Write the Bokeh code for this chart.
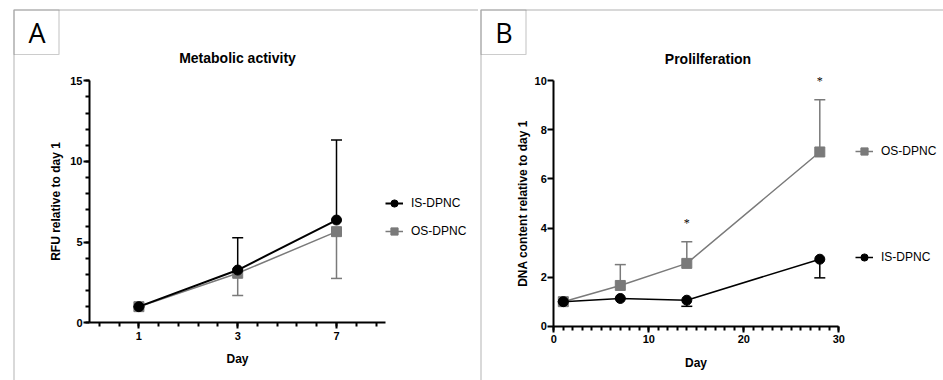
from bokeh.plotting import figure
from bokeh.models import (FixedTicker, Whisker, TeeHead, ColumnDataSource, Legend,
                          LegendItem, Label, LabelSet, BoxAnnotation, Range1d, LinearAxis)
from bokeh.layouts import row
from bokeh.embed import file_html
from bokeh.resources import INLINE

# ---------------- data: panel A (metabolic activity) ----------------
days_a = ["1", "3", "7"]
is_a_mean = [1.0, 3.27, 6.37]
is_a_sd = [0.0, 2.0, 4.96]
os_a_mean = [1.0, 3.07, 5.65]
os_a_sd = [0.0, 1.38, 2.9]
y_ticks_a = [0, 5, 10, 15]

# ---------------- data: panel B (proliferation) ----------------
days_b = [1, 7, 14, 28]
os_b_mean = [1.0, 1.66, 2.56, 7.1]
os_b_sd = [0.0, 0.85, 0.88, 2.13]
is_b_mean = [1.0, 1.13, 1.06, 2.73]
is_b_sd = [0.0, 0.0, 0.25, 0.76]
sig_days_b = [14, 28]
sig_y_b = [4.2, 10.0]
x_ticks_b = [0, 10, 20, 30]
y_ticks_b = [0, 2, 4, 6, 8, 10]

BLACK = "#000000"
GREY = "#7a7a7a"
FRAME = "#555555"
FONT = "Liberation Sans"
H = 380
WA, WB = 478, 465


def make_range(v0, p0, v1, p1, lo, hi):
    # data range whose values v0/v1 fall at pixels p0/p1 of a frame spanning lo..hi
    ppu = (p1 - p0) / (v1 - v0)
    a = v0 + (lo - p0) / ppu
    b = v0 + (hi - p0) / ppu
    return Range1d(min(a, b), max(a, b))


def style_axis(ax, label):
    ax.axis_label = label
    ax.axis_line_width = 2
    ax.axis_line_color = BLACK
    ax.major_tick_line_width = 2
    ax.minor_tick_line_width = 2
    ax.major_tick_line_color = BLACK
    ax.minor_tick_line_color = BLACK
    ax.major_tick_in = 0
    ax.minor_tick_in = 0
    ax.major_tick_out = 6
    ax.minor_tick_out = 4
    ax.major_label_text_font = FONT
    ax.major_label_text_font_style = "bold"
    ax.major_label_text_font_size = "11px"
    ax.major_label_text_color = BLACK
    ax.axis_label_text_font = FONT
    ax.axis_label_text_font_style = "bold"
    ax.axis_label_text_font_size = "12px"
    ax.axis_label_text_color = BLACK


def base_fig(width, xr, yr):
    p = figure(width=width, height=H, output_backend="svg", toolbar_location=None,
               x_range=xr, y_range=yr, x_axis_location=None, y_axis_location=None,
               min_border=0, min_border_left=0, min_border_right=0,
               min_border_top=0, min_border_bottom=0)
    p.grid.visible = False
    p.outline_line_color = None
    p.border_fill_color = "white"
    p.background_fill_color = "white"
    return p


def panel_frame(p, fw, left, letter, title, title_x, title_y):
    # everything here in screen px: x from frame left, y up from frame bottom
    p.add_layout(BoxAnnotation(left=left, right=fw + 50, top=H - 9.5, bottom=-50,
                               left_units="screen", right_units="screen",
                               top_units="screen", bottom_units="screen",
                               fill_alpha=0, line_color=FRAME, line_width=1.5))
    p.add_layout(BoxAnnotation(left=left, right=left + 45, top=H - 9.5, bottom=H - 54,
                               left_units="screen", right_units="screen",
                               top_units="screen", bottom_units="screen",
                               fill_alpha=0, line_color=FRAME, line_width=1.2))
    p.add_layout(Label(x=left + 23, y=H - 32, x_units="screen", y_units="screen",
                       text=letter, text_font="Open Sans", text_font_size="27px",
                       text_align="center", text_baseline="middle", text_color=BLACK))
    p.add_layout(Label(x=title_x, y=H - title_y, x_units="screen", y_units="screen",
                       text=title, text_font=FONT, text_font_size="14px",
                       text_font_style="bold", text_align="center",
                       text_baseline="middle", text_color=BLACK))


def make_legend(items, loc, spacing):
    return Legend(items=items, location=loc, padding=0, margin=0, spacing=spacing,
                  glyph_width=18, glyph_height=20, label_height=20, label_standoff=8,
                  label_text_font=FONT, label_text_font_size="12px",
                  label_text_color=BLACK,
                  border_line_alpha=0, background_fill_alpha=0)


# ================= Panel A =================
pa = base_fig(WA, make_range(-0.5, 89, 2.5, 385.4, 0, WA),
              make_range(0, 322.3, 15, 80.3, H, 0))
xa = list(range(len(days_a)))
ax_x = LinearAxis(fixed_location=0, bounds=(-0.5, 2.5))
ax_x.ticker = FixedTicker(ticks=xa, minor_ticks=[i / 5 - 0.4 for i in range(15)])
ax_x.major_label_overrides = {i: d for i, d in enumerate(days_a)}
style_axis(ax_x, "Day")
ax_x.major_label_standoff = 3
ax_x.axis_label_standoff = 9
pa.add_layout(ax_x, "below")
ax_y = LinearAxis(fixed_location=-0.5, bounds=(0, 15))
ax_y.ticker = FixedTicker(ticks=y_ticks_a, minor_ticks=list(range(16)))
style_axis(ax_y, "RFU relative to day 1")
ax_y.major_label_standoff = 1
ax_y.axis_label_standoff = 4
pa.add_layout(ax_y, "left")

src_is_a = ColumnDataSource(dict(x=xa, y=is_a_mean,
                                 up=[m + s for m, s in zip(is_a_mean, is_a_sd)]))
src_os_a = ColumnDataSource(dict(x=xa, y=os_a_mean,
                                 lo=[m - s for m, s in zip(os_a_mean, os_a_sd)]))
pa.add_layout(Whisker(source=src_os_a, base="x", upper="y", lower="lo",
                      line_color=GREY, line_width=1.5, upper_head=None,
                      lower_head=TeeHead(size=11, line_color=GREY, line_width=1.5)))
pa.add_layout(Whisker(source=src_is_a, base="x", upper="up", lower="y",
                      line_color=BLACK, line_width=1.5, lower_head=None,
                      upper_head=TeeHead(size=11, line_color=BLACK, line_width=1.5)))
la_os = pa.line("x", "y", source=src_os_a, line_color=GREY, line_width=1.5)
sa_os = pa.scatter("x", "y", source=src_os_a, marker="square", size=10,
                   fill_color=GREY, line_color=GREY)
la_is = pa.line("x", "y", source=src_is_a, line_color=BLACK, line_width=2)
sa_is = pa.scatter("x", "y", source=src_is_a, marker="circle", size=10,
                   fill_color=BLACK, line_color=BLACK)
pa.add_layout(make_legend([LegendItem(label="IS-DPNC", renderers=[la_is, sa_is]),
                           LegendItem(label="OS-DPNC", renderers=[la_os, sa_os])],
                          (385, H - 241), 8), "center")
panel_frame(pa, WA, 13.5, "A", "Metabolic activity", 237, 57)

# ================= Panel B =================
OX = WA  # page x of panel B's left edge
pb = base_fig(WB, make_range(0, 553.3 - OX, 30, 838.3 - OX, 0, WB),
              make_range(0, 325.7, 10, 80.3, H, 0))
bx = LinearAxis(fixed_location=0, bounds=(0, 30))
bx.ticker = FixedTicker(ticks=x_ticks_b, minor_ticks=list(range(31)))
style_axis(bx, "Day")
bx.major_label_standoff = 3
bx.axis_label_standoff = 9
pb.add_layout(bx, "below")
by = LinearAxis(fixed_location=0, bounds=(0, 10))
by.ticker = FixedTicker(ticks=y_ticks_b, minor_ticks=[])
style_axis(by, "DNA content relative to day 1")
by.major_label_standoff = 1
by.axis_label_standoff = 1
pb.add_layout(by, "left")

src_os_b = ColumnDataSource(dict(x=days_b, y=os_b_mean,
                                 up=[m + s for m, s in zip(os_b_mean, os_b_sd)]))
src_is_b = ColumnDataSource(dict(x=days_b, y=is_b_mean,
                                 lo=[m - s for m, s in zip(is_b_mean, is_b_sd)]))
pb.add_layout(Whisker(source=src_os_b, base="x", upper="up", lower="y",
                      line_color=GREY, line_width=1.5, lower_head=None,
                      upper_head=TeeHead(size=11, line_color=GREY, line_width=1.5)))
pb.add_layout(Whisker(source=src_is_b, base="x", upper="y", lower="lo",
                      line_color=BLACK, line_width=1.5, upper_head=None,
                      lower_head=TeeHead(size=11, line_color=BLACK, line_width=1.5)))
lb_os = pb.line("x", "y", source=src_os_b, line_color=GREY, line_width=1.5)
sb_os = pb.scatter("x", "y", source=src_os_b, marker="square", size=10,
                   fill_color=GREY, line_color=GREY)
lb_is = pb.line("x", "y", source=src_is_b, line_color=BLACK, line_width=1.5)
sb_is = pb.scatter("x", "y", source=src_is_b, marker="circle", size=10,
                   fill_color=BLACK, line_color=BLACK)
pb.add_layout(LabelSet(source=ColumnDataSource(dict(x=sig_days_b, y=sig_y_b,
                                                    t=["*"] * len(sig_days_b))),
                       x="x", y="y", text="t", text_align="center",
                       text_baseline="middle", text_font=FONT,
                       text_font_size="12px", text_color=BLACK))
pb.add_layout(make_legend([LegendItem(label="OS-DPNC", renderers=[lb_os, sb_os]),
                           LegendItem(label="IS-DPNC", renderers=[lb_is, sb_is])],
                          (855 - OX, H - 267), 86), "center")
panel_frame(pb, WB, 480.5 - OX, "B", "Prolilferation", 707.5 - OX, 58)

layout = row(pa, pb)
open("out.html", "w").write(file_html(layout, INLINE))
